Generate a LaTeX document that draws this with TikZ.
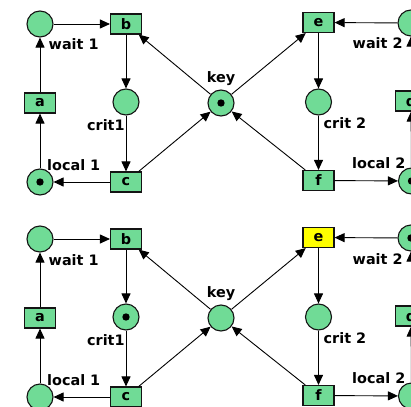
\documentclass[tikz,border=0pt]{standalone}
\usepackage{fontspec}
\setmainfont{DejaVu Sans}
\usetikzlibrary{arrows.meta}
\definecolor{placegreen}{RGB}{112,219,150}
\definecolor{fireyellow}{RGB}{255,255,0}
\definecolor{rim}{RGB}{20,20,20}
\tikzset{
  netfont/.style={font=\bfseries\fontsize{14.4}{17}\selectfont},
  place/.style={circle, draw=rim, line width=1.1pt, fill=placegreen,
    minimum size=26pt, inner sep=0pt},
  transition/.style={rectangle, draw=rim, line width=1.1pt, fill=placegreen,
    minimum width=31pt, minimum height=20pt, inner sep=0pt, netfont},
  marked/.style={path picture={\fill[black]
    (path picture bounding box.center) circle (3.7pt);}},
  enabled/.style={fill=fireyellow},
  tag/.style={netfont, inner sep=0pt},
  arc/.style={draw=black, line width=0.9pt, -{Triangle[length=10pt,width=9pt]}},
}
% One mutual-exclusion net: #1 = name prefix, #2 = vertical offset
\newcommand\mutexnet[2]{%
\begin{scope}[shift={(0,#2)}]
  % places and transitions
  \node[place, tok wait1]      (#1wait1)  at (40,24)      {};
  \node[transition, tok b]     (#1b)      at (126,24)     {b};
  \node[transition]            (#1a)      at (40,103)     {a};
  \node[place, tok crit1]      (#1crit1)  at (126,102)    {};
  \node[place, tok local1]     (#1local1) at (40,182)     {};
  \node[transition]            (#1c)      at (126,182)    {c};
  \node[place, tok key]        (#1key)    at (221,103)    {};
  \node[transition, tok e]     (#1e)      at (318.5,22.5) {e};
  \node[place, tok crit2]      (#1crit2)  at (318.5,102)  {};
  \node[transition]            (#1f)      at (318.5,180.5){f};
  \node[place, tok wait2]      (#1wait2)  at (411,23)     {};
  \node[transition]            (#1d)      at (411,101)    {d};
  \node[place, tok local2]     (#1local2) at (411.5,181)  {};
  % place names
  \node[tag, anchor=base west] (#1twait1)  at (48.5,50)   {wait 1};
  \node[tag, anchor=base east] (#1tcrit1)  at (124.8,130) {crit1};
  \node[tag, anchor=base west] (#1tlocal1) at (47,170)    {local 1};
  \node[tag, anchor=base]      (#1tkey)    at (221,82.5)  {key};
  \node[tag, anchor=base west] (#1twait2)  at (352.5,49)  {wait 2};
  \node[tag, anchor=base west] (#1tcrit2)  at (323.5,128.3) {crit 2};
  \node[tag, anchor=base west] (#1tlocal2) at (352,168.3) {local 2};
  % arcs of process 1
  \draw[arc] (#1wait1) -- (#1b);
  \draw[arc] (#1b) -- (#1crit1);
  \draw[arc] (#1crit1) -- (#1c);
  \draw[arc] (#1c) -- (#1local1);
  \draw[arc] (#1local1) -- (#1a);
  \draw[arc] (#1a) -- (#1wait1);
  % arcs of the shared key
  \draw[arc] (#1key) -- (#1b);
  \draw[arc] (#1c) -- (#1key);
  \draw[arc] (#1key) -- (#1e);
  \draw[arc] (#1f) -- (#1key);
  % arcs of process 2
  \draw[arc] (#1wait2) -- (#1e);
  \draw[arc] (#1e) -- (#1crit2);
  \draw[arc] (#1crit2) -- (#1f);
  \draw[arc] (#1f) -- (#1local2);
  \draw[arc] (#1local2) -- (#1d);
  \draw[arc] (#1d) -- (#1wait2);
\end{scope}}

\begin{document}
\begin{tikzpicture}[x=1pt, y=-1pt]
  \useasboundingbox (0,0) rectangle (411,406);
  \clip (0,0) rectangle (411,406);
  \fill[white] (0,0) rectangle (411,406);
  % initial marking
  \tikzset{tok wait1/.style={}, tok crit1/.style={}, tok local1/.style={marked},
    tok key/.style={marked}, tok crit2/.style={}, tok wait2/.style={},
    tok local2/.style={marked}, tok b/.style={}, tok e/.style={}}
  \mutexnet{u}{0}
  % marking with process 1 critical and process 2 waiting
  \tikzset{tok wait1/.style={}, tok crit1/.style={marked}, tok local1/.style={},
    tok key/.style={}, tok crit2/.style={}, tok wait2/.style={marked},
    tok local2/.style={}, tok b/.style={}, tok e/.style={enabled}}
  \mutexnet{l}{215}
\end{tikzpicture}
\end{document}
